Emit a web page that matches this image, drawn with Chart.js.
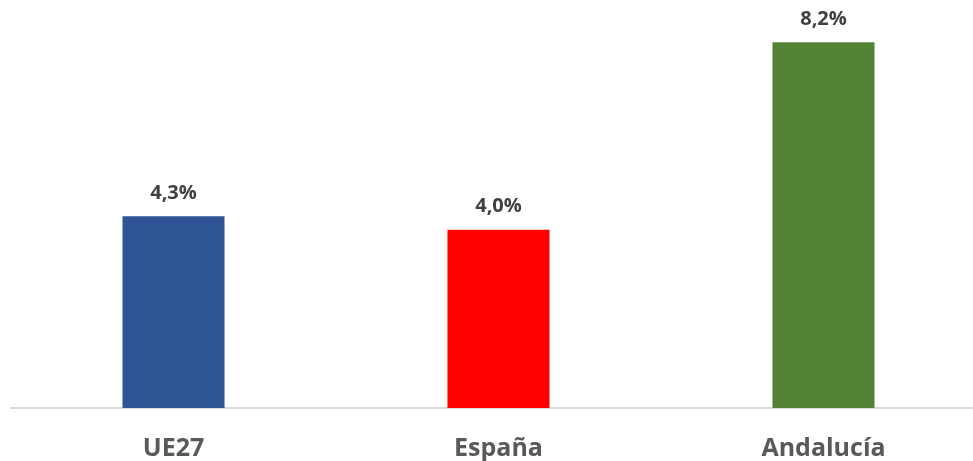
<!DOCTYPE html>
<html>
<head>
<meta charset="utf-8">
<script src="https://cdn.jsdelivr.net/npm/chart.js@4"></script>
<style>
    html, body { margin: 0; padding: 0; overflow: hidden; background: #fff; }
    #wrap { width: 990px; height: 490px; }
</style>
</head>
<body>
<div id="wrap"><canvas id="chart"></canvas></div>
<script>
// Chart data
const categories = ['UE27', 'España', 'Andalucía'];
const values = [4.3, 4.0, 8.2];
const valueLabels = ['4,3%', '4,0%', '8,2%'];
const barColors = ['#2F5597', '#FF0000', '#548235'];

// Value labels above bars
const barLabels = {
    id: 'barLabels',
    afterDatasetsDraw(chart) {
        const ctx = chart.ctx;
        const meta = chart.getDatasetMeta(0);
        ctx.save();
        ctx.font = 'bold 20px "Open Sans"';
        ctx.fillStyle = '#404040';
        ctx.textAlign = 'center';
        ctx.textBaseline = 'middle';
        meta.data.forEach(function (bar, i) {
            ctx.fillText(valueLabels[i], bar.x, bar.y - 23);
        });
        ctx.restore();
    }
};

const ctx = document.getElementById('chart').getContext('2d');
new Chart(ctx, {
    type: 'bar',
    data: {
        labels: categories,
        datasets: [{
            data: values,
            backgroundColor: barColors,
            categoryPercentage: 1,
            barPercentage: 0.314
        }]
    },
    options: {
        responsive: true,
        maintainAspectRatio: false,
        animation: false,
        layout: { padding: { left: 11, right: 4, top: 0, bottom: 0 } },
        plugins: {
            legend: { display: false },
            tooltip: { enabled: false }
        },
        scales: {
            x: {
                grid: { display: false, drawTicks: false },
                border: { color: '#d9d9d9', width: 2 },
                ticks: {
                    color: '#595959',
                    font: { family: 'Open Sans', size: 25, weight: 'bold' },
                    padding: 26
                }
            },
            y: {
                display: false,
                min: 0,
                max: 9.15
            }
        }
    },
    plugins: [barLabels]
});
</script>
</body>
</html>
